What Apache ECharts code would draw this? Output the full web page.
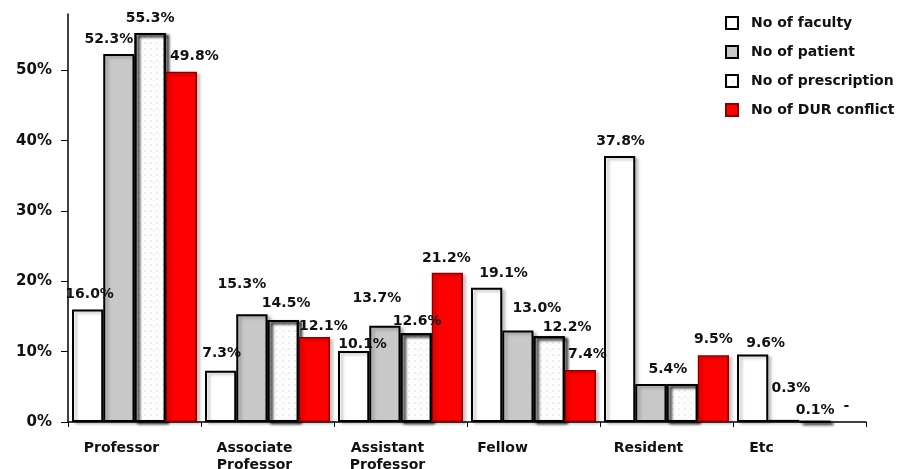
<!DOCTYPE html>
<html>
<head>
<meta charset="utf-8">
<script src="https://cdn.jsdelivr.net/npm/echarts@6/dist/echarts.min.js"></script>
<style>
  html, body { margin: 0; padding: 0; background: #fff; }
  #chart { width: 897px; height: 469px; }
</style>
</head>
<body>
<div id="chart"></div>
<script>
// Share of each faculty position (%)
const categories = ['Professor', 'Associate\nProfessor', 'Assistant\nProfessor', 'Fellow', 'Resident', 'Etc'];
const seriesNames = ['No of faculty', 'No of patient', 'No of prescription', 'No of DUR conflict'];
const faculty      = [16.0, 7.3, 10.1, 19.1, 37.8, 9.6];
const patient      = [52.3, 15.3, 13.7, 13.0, 5.4, 0.3];
const prescription = [55.3, 14.5, 12.6, 12.2, 5.4, 0.1];
const durConflict  = [49.8, 12.1, 21.2, 7.4, 9.5, 0];
const yTicks = [0, 10, 20, 30, 40, 50];

// hand-placed label nudges [dx, dy] in px, one row per series
const labelNudge = [
  [[2, 0], [1, -2], [9, 8], [17, 1], [1, 0], [13, 4]],
  [[-10, 0], [-10, -15], [-8, -12], [19, -7], [17, 0], [7, -17]],
  [[0, 0], [3, -2], [1, 3], [18, 6], [0, 0], [0, 5]],
  [[13, 0], [9, 4], [-1, 0], [7, -1], [0, -1], [0, -1]]
];
// leftward shift of each category name, px
const nameShift = [13, 13, 13, 31, 18, 38];

const FONT = '"DejaVu Sans", sans-serif';
const shadow = { shadowColor: 'rgba(0,0,0,0.25)', shadowBlur: 3, shadowOffsetX: 3, shadowOffsetY: 2 };

const styles = [
  { color: '#ffffff', borderColor: '#000', borderWidth: 2 },
  { color: '#c8c8c8', borderColor: '#000', borderWidth: 2 },
  { color: '#ffffff', borderColor: '#000', borderWidth: 2,
    decal: { symbol: 'circle', symbolSize: 1, color: 'rgba(0,0,0,0.09)', dashArrayX: [1.5, 4], dashArrayY: [1.5, 4], rotation: 0 } },
  { color: '#ff0000', borderColor: '#8a0000', borderWidth: 1.5 }
];

const dataSets = [faculty, patient, prescription, durConflict];

// a label shared by two touching bars of equal value is written once
function labelText(seriesIdx, dataIdx, v) {
  if (v === 0) return '-';
  if (seriesIdx > 0 && dataSets[seriesIdx - 1][dataIdx] === v) return '';
  return v.toFixed(1) + '%';
}

const emptyBar = { borderWidth: 0, color: 'rgba(0,0,0,0)', shadowBlur: 0, shadowOffsetX: 0, shadowOffsetY: 0 };

const series = dataSets.map((vals, i) => ({
  name: seriesNames[i],
  type: 'bar',
  data: vals.map((v, j) => {
    const item = { value: v, label: { offset: labelNudge[i][j] } };
    if (v === 0) item.itemStyle = emptyBar;
    return item;
  }),
  barGap: '0%',
  barCategoryGap: '6%',
  itemStyle: Object.assign({}, styles[i], shadow),
  label: {
    show: true,
    position: 'top',
    distance: 8,
    color: '#111',
    fontFamily: FONT,
    fontWeight: 'bold',
    fontSize: 14,
    formatter: p => labelText(p.seriesIndex, p.dataIndex, p.value)
  }
}));

const categoryData = categories.map((c, i) => ({
  value: c,
  textStyle: { padding: [0, nameShift[i] * 2, 0, 0] }
}));

const chart = echarts.init(document.getElementById('chart'), null, { renderer: 'canvas' });
chart.setOption({
  animation: false,
  backgroundColor: '#ffffff',
  grid: { left: 68, right: 31, top: 14, bottom: 47, containLabel: false, outerBoundsMode: 'none' },
  legend: {
    orient: 'vertical',
    left: 720,
    top: 11,
    itemWidth: 12,
    itemHeight: 12,
    itemGap: 15,
    icon: 'rect',
    data: seriesNames,
    textStyle: { fontFamily: FONT, fontWeight: 'bold', fontSize: 14, color: '#111', padding: [0, 0, 0, 8] }
  },
  xAxis: {
    type: 'category',
    data: categoryData,
    axisLine: { lineStyle: { color: '#000', width: 1.5 } },
    axisTick: { show: true, length: 5, lineStyle: { color: '#000' } },
    axisLabel: {
      margin: 18,
      color: '#111',
      fontFamily: FONT,
      fontWeight: 'bold',
      fontSize: 14,
      lineHeight: 17
    }
  },
  yAxis: {
    type: 'value',
    min: 0,
    max: 58,
    interval: 10,
    splitLine: { show: false },
    axisLine: { show: true, lineStyle: { color: '#000', width: 1.5 } },
    axisTick: { show: true, length: 7, lineStyle: { color: '#000' } },
    axisLabel: {
      showMaxLabel: false,
      margin: 16,
      color: '#111',
      fontFamily: FONT,
      fontWeight: 'bold',
      fontSize: 15,
      formatter: v => yTicks.includes(v) ? v + '%' : ''
    }
  },
  series: series
});
</script>
</body>
</html>
